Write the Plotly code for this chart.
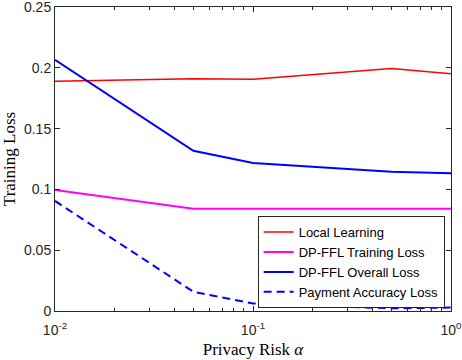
import plotly.graph_objects as go

alpha = [0.01, 0.05, 0.1, 0.5, 1.0]
local_learning = [0.189, 0.191, 0.1905, 0.1995, 0.1952]
dpffl_training = [0.0995, 0.084, 0.084, 0.084, 0.084]
dpffl_overall = [0.2065, 0.1318, 0.1218, 0.1145, 0.1132]
payment_loss = [0.0905, 0.0158, 0.0062, 0.0022, 0.0028]

x_tickvals = [0.01, 0.1, 1]
x_ticktext = ["10<sup>-2</sup>", "10<sup>-1</sup>", "10<sup>0</sup>"]
y_tickvals = [0, 0.05, 0.1, 0.15, 0.2, 0.25]
y_ticktext = ["0", "0.05", "0.1", "0.15", "0.2", "0.25"]
x_minor = [0.02, 0.03, 0.04, 0.05, 0.06, 0.07, 0.08, 0.09,
           0.2, 0.3, 0.4, 0.5, 0.6, 0.7, 0.8, 0.9]

fig = go.Figure()
fig.add_trace(go.Scatter(x=alpha, y=local_learning, mode="lines", name="Local Learning",
                         line=dict(color="#ff0000", width=1.5)))
fig.add_trace(go.Scatter(x=alpha, y=dpffl_training, mode="lines", name="DP-FFL Training Loss",
                         line=dict(color="#ff00ff", width=2)))
fig.add_trace(go.Scatter(x=alpha, y=dpffl_overall, mode="lines", name="DP-FFL Overall Loss",
                         line=dict(color="#0000ff", width=2)))
fig.add_trace(go.Scatter(x=alpha, y=payment_loss, mode="lines", name="Payment Accuracy Loss",
                         line=dict(color="#0000ff", width=2, dash="8px,5px")))

axis_color = "#262626"
fig.update_layout(
    width=462, height=360,
    margin=dict(l=55, r=11, t=7, b=49),
    paper_bgcolor="white", plot_bgcolor="white",
    font=dict(family="Liberation Sans, Arial", size=14, color=axis_color),
    legend=dict(x=0.984, y=0.312, xanchor="right", yanchor="top",
                bgcolor="white", bordercolor=axis_color, borderwidth=1,
                font=dict(family="Liberation Sans, Arial", size=13, color="black"),
                tracegroupgap=0, itemwidth=30),
    showlegend=True,
)
fig.update_xaxes(
    type="log", range=[-2, 0], automargin=False, ticklabeloverflow="allow",
    tickvals=x_tickvals, ticktext=x_ticktext, ticklabelstandoff=6,
    ticks="inside", ticklen=5, tickcolor=axis_color,
    minor=dict(tickmode="array", ticks="inside", ticklen=3, tickvals=x_minor,
               tickcolor=axis_color, tickwidth=1),
    showline=True, linecolor=axis_color, linewidth=1, mirror="ticks",
    showgrid=False, zeroline=False,
    title=dict(text="Privacy Risk <i>α</i>", standoff=6,
               font=dict(family="Liberation Serif, Times New Roman", size=17, color="black")),
)
fig.update_yaxes(
    range=[0, 0.25], automargin=False, ticklabeloverflow="allow",
    tickvals=y_tickvals, ticktext=y_ticktext,
    ticks="inside", ticklen=5, tickcolor=axis_color,
    showline=True, linecolor=axis_color, linewidth=1, mirror="ticks",
    showgrid=False, zeroline=False,
    title=dict(text="Training Loss", standoff=6,
               font=dict(family="Liberation Serif, Times New Roman", size=17, color="black")),
)
fig.write_html("out.html", post_script="document.body.style.margin='0';",
               config={"displayModeBar": False})
